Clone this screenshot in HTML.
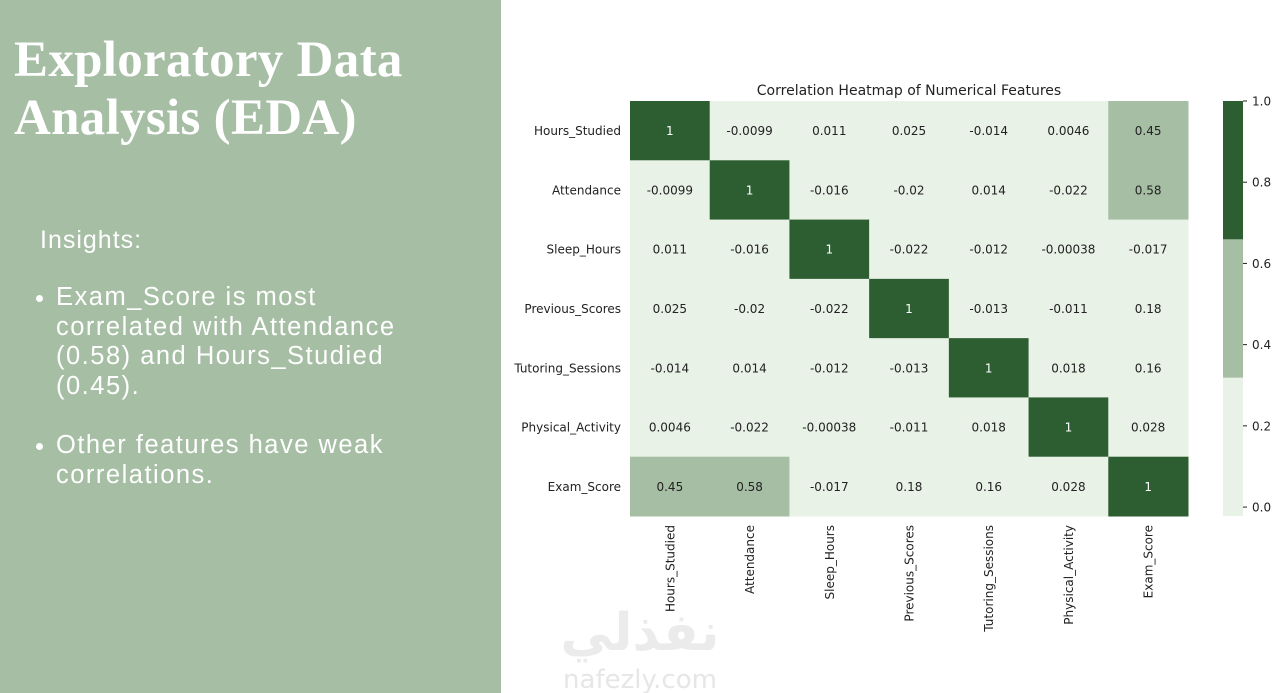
<!DOCTYPE html>
<html><head><meta charset="utf-8"><style>
body{margin:0;width:1280px;height:693px;overflow:hidden;background:#fff;font-family:"Liberation Sans",sans-serif}
#left{position:absolute;left:0;top:0;width:501px;height:693px;background:#a6bea4;color:#fff}
#title{position:absolute;left:14px;top:31px;font-family:"Liberation Serif",serif;font-weight:bold;font-size:51px;line-height:58px;letter-spacing:0.3px}
#ins{position:absolute;left:40px;top:226px;font-size:25px;letter-spacing:1px}
ul{position:absolute;left:56px;top:283px;margin:0;padding:0;width:380px;font-size:25.5px;line-height:29.5px;list-style:none;letter-spacing:1.5px}
li{position:relative;margin-bottom:30px}
li:before{content:"";position:absolute;left:-20px;top:12px;width:7px;height:7px;border-radius:50%;background:#fff}
#chart{position:absolute;left:0;top:0;font-family:"DejaVu Sans",sans-serif}
</style></head><body>
<div id="left">
<div id="title">Exploratory Data<br>Analysis (EDA)</div>
<div id="ins">Insights:</div>
<ul>
<li>Exam_Score is most correlated with Attendance (0.58) and Hours_Studied (0.45).</li>
<li>Other features have weak correlations.</li>
</ul></div>
<svg id="chart" width="1280" height="693">
<text x="909" y="95" text-anchor="middle" font-size="14" fill="#222">Correlation Heatmap of Numerical Features</text>
<g id="cells"></g>
<text x="640" y="650" text-anchor="middle" font-size="52" font-weight="bold" fill="#ebebeb">نفذلي</text>
<text x="640" y="688" text-anchor="middle" font-size="26" fill="#e6e6e6">nafezly.com</text>
</svg>
<script>
const labels=["Hours_Studied","Attendance","Sleep_Hours","Previous_Scores","Tutoring_Sessions","Physical_Activity","Exam_Score"];
const valueText=[
["1","-0.0099","0.011","0.025","-0.014","0.0046","0.45"],
["-0.0099","1","-0.016","-0.02","0.014","-0.022","0.58"],
["0.011","-0.016","1","-0.022","-0.012","-0.00038","-0.017"],
["0.025","-0.02","-0.022","1","-0.013","-0.011","0.18"],
["-0.014","0.014","-0.012","-0.013","1","0.018","0.16"],
["0.0046","-0.022","-0.00038","-0.011","0.018","1","0.028"],
["0.45","0.58","-0.017","0.18","0.16","0.028","1"]];
const cbTicks=[0,0.2,0.4,0.6,0.8,1.0];
const X0=630,X1=1188,Y0=101,Y1=516,n=labels.length;
const cw=(X1-X0)/n,ch=(Y1-Y0)/n;
const xs=i=>X0+i*cw, ys=j=>Y0+j*ch;
const vmin=-0.022,vmax=1;
function col(v){const t=(v-vmin)/(vmax-vmin);return t<1/3?"#e8f2e6":t<2/3?"#a6bea4":"#2d5e32";}
const g=document.getElementById("cells"),NS="http://www.w3.org/2000/svg";
function mk(tag,a){const e=document.createElementNS(NS,tag);for(const k in a)e.setAttribute(k,a[k]);return e;}
for(let r=0;r<n;r++)for(let c=0;c<n;c++){
 const v=parseFloat(valueText[r][c]);
 const rc=mk("rect",{x:xs(c),y:ys(r),width:cw+0.5,height:ch+0.5,fill:col(v)});
 
 
 g.appendChild(rc);
 const t=mk("text",{x:xs(c)+cw/2,y:ys(r)+ch/2+4.5,"text-anchor":"middle","font-size":"12",fill:col(v)=="#2d5e32"?"#fff":"#222"});
 t.textContent=valueText[r][c];
 
 
 g.appendChild(t);
}
labels.forEach((l,i)=>{
 const t=mk("text",{x:621,y:ys(i)+ch/2+4.5,"text-anchor":"end","font-size":"12",fill:"#222"});
 t.textContent=l;
 
 
 g.appendChild(t);
 const x=xs(i)+cw/2+4.5;
 const u=mk("text",{x:x,y:525,"text-anchor":"end","font-size":"12",fill:"#222",transform:`rotate(-90 ${x} 525)`});
 u.textContent=l;
 
 
 g.appendChild(u);
});
const CB0=1223,CBW=20;
const cy=v=>Y1-(v-vmin)/(vmax-vmin)*(Y1-Y0);
[[vmin,vmin+(vmax-vmin)/3],[vmin+(vmax-vmin)/3,vmin+2*(vmax-vmin)/3],[vmin+2*(vmax-vmin)/3,vmax]].forEach(b=>{
 const r=mk("rect",{x:CB0,y:cy(b[1]),width:CBW,height:cy(b[0])-cy(b[1]),fill:col((b[0]+b[1])/2)});
 
 
 g.appendChild(r);
});
cbTicks.forEach(v=>{
 const y=cy(v);
 g.appendChild(mk("line",{x1:CB0+CBW,x2:CB0+CBW+4,y1:y,y2:y,stroke:"#222"}));
 const t=mk("text",{x:1252,y:y+4.5,"font-size":"12",fill:"#222"});
 t.textContent=v.toFixed(1);
 
 
 g.appendChild(t);
});
</script>
</body></html>
